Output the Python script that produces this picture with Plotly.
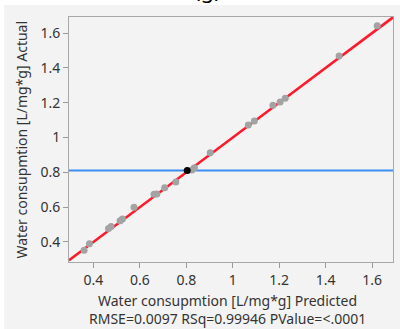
import plotly.graph_objects as go

# Actual vs. predicted water consumption (L/mg*g)
predicted = [0.360, 0.383, 0.465, 0.476, 0.515, 0.525, 0.575, 0.661, 0.673, 0.707, 0.755,
             0.824, 0.835, 0.903, 1.067, 1.093, 1.173, 1.204, 1.226, 1.458, 1.622]
actual = [0.353, 0.390, 0.478, 0.489, 0.522, 0.532, 0.600, 0.674, 0.676, 0.712, 0.745,
          0.814, 0.826, 0.913, 1.072, 1.095, 1.185, 1.204, 1.225, 1.468, 1.642]

# Mean point and mean of actual response
mean_pred = 0.804
mean_actual = 0.810

# Fitted line with its confidence band
fit_x = [0.295, 0.55, 0.804, 1.2, 1.69]
fit_y = [0.295, 0.55, 0.804, 1.2, 1.69]
ci_half = [0.010, 0.006, 0.004, 0.007, 0.013]

tick_vals = [0.4, 0.6, 0.8, 1.0, 1.2, 1.4, 1.6]
tick_text = ["0.4", "0.6", "0.8", "1", "1.2", "1.4", "1.6"]

x_title = "Water consupmtion [L/mg*g] Predicted"
y_title = "Water consupmtion [L/mg*g] Actual"
stats_text = "RMSE=0.0097 RSq=0.99946 PValue=<.0001"
panel_label = "(g)"

FONT = "Noto Sans"
TEXT_COLOR = "#333333"
x_range = [0.295, 1.69]
y_range = [0.285, 1.692]

fig = go.Figure()

upper = [y + h for y, h in zip(fit_y, ci_half)]
lower = [y - h for y, h in zip(fit_y, ci_half)]
fig.add_trace(go.Scatter(x=fit_x, y=lower, mode="lines", line=dict(width=0, shape="spline"),
                         hoverinfo="skip", showlegend=False))
fig.add_trace(go.Scatter(x=fit_x, y=upper, mode="lines", line=dict(width=0, shape="spline"),
                         fill="tonexty", fillcolor="rgba(255,60,80,0.30)",
                         hoverinfo="skip", showlegend=False))

# Mean-of-response reference line
fig.add_trace(go.Scatter(x=x_range, y=[mean_actual, mean_actual], mode="lines",
                         line=dict(color="#3b8ff2", width=2), showlegend=False))

# Fit line
fig.add_trace(go.Scatter(x=fit_x, y=fit_y, mode="lines",
                         line=dict(color="#ff1a2c", width=2.5), showlegend=False))

# Observations
fig.add_trace(go.Scatter(x=predicted, y=actual, mode="markers",
                         marker=dict(color="#a3a3a3", size=7), showlegend=False))

fig.add_trace(go.Scatter(x=[mean_pred], y=[mean_actual], mode="markers",
                         marker=dict(color="#000000", size=7), showlegend=False))

axis_common = dict(
    tickvals=tick_vals, ticktext=tick_text, ticks="outside", ticklen=5,
    tickcolor="#9a9a9a", tickwidth=1, showgrid=False, zeroline=False,
    showline=True, linecolor="#a8a8a8", linewidth=1, mirror=True,
    tickfont=dict(family=FONT, size=14, color=TEXT_COLOR),
)

fig.update_xaxes(range=x_range, **axis_common)
fig.update_yaxes(range=y_range, **axis_common)

fig.update_layout(
    width=400, height=329,
    margin=dict(l=69, r=7, t=17, b=67),
    paper_bgcolor="#ffffff",
    plot_bgcolor="#ffffff",
    font=dict(family=FONT, size=14, color=TEXT_COLOR),
    shapes=[dict(type="rect", xref="paper", yref="paper", layer="below",
                 x0=-0.2, x1=1.1, y0=-0.3, y1=1.0 + 12 / 245,
                 fillcolor="#f3f3f3", line=dict(width=0))],
    annotations=[
        dict(text=x_title, xref="paper", yref="paper", x=0.49, y=0,
             yanchor="middle", xanchor="center", yshift=-38, showarrow=False,
             font=dict(family=FONT, size=14, color=TEXT_COLOR)),
        dict(text=stats_text, xref="paper", yref="paper", x=0.49, y=0,
             yanchor="middle", xanchor="center", yshift=-56, showarrow=False,
             font=dict(family=FONT, size=14, color=TEXT_COLOR)),
        dict(text=y_title, xref="paper", yref="paper", x=0, y=0.5,
             xanchor="center", yanchor="middle", xshift=-48, textangle=-90,
             showarrow=False, font=dict(family=FONT, size=14, color=TEXT_COLOR)),
        dict(text=panel_label, xref="paper", yref="paper", x=(207 - 69) / 324, y=1,
             xanchor="center", yanchor="bottom", yshift=11, showarrow=False,
             font=dict(family=FONT, size=22, color="#000000")),
    ],
)

fig.write_html("out.html")
